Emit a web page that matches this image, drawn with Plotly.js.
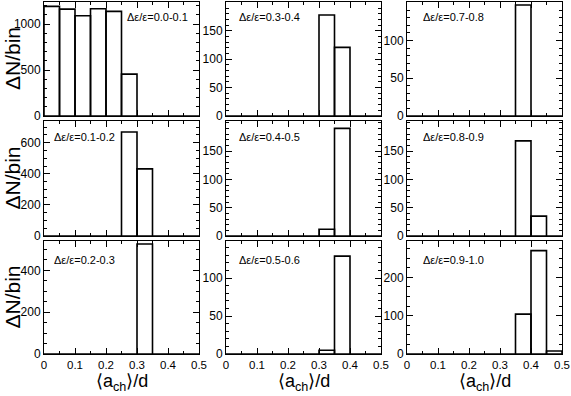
<!DOCTYPE html>
<html>
<head>
<meta charset="utf-8">
<script src="https://cdn.plot.ly/plotly-3.0.1.min.js"></script>
<style>
body { margin: 0; background: #fff; }
#chart { width: 571px; height: 396px; }
</style>
</head>
<body>
<div id="chart"></div>
<script>
// bin centres, 0.05 wide bins from 0 to 0.5
const binCenters = [0.025, 0.075, 0.125, 0.175, 0.225, 0.275, 0.325, 0.375, 0.425, 0.475];
const xTickVals = [0, 0.1, 0.2, 0.3, 0.4, 0.5];
const xTickText = ['0', '0.1', '0.2', '0.3', '0.4', '0.5'];

const panelLabels = ['Δε/ε=0.0-0.1', 'Δε/ε=0.1-0.2', 'Δε/ε=0.2-0.3',
                     'Δε/ε=0.3-0.4', 'Δε/ε=0.4-0.5', 'Δε/ε=0.5-0.6',
                     'Δε/ε=0.7-0.8', 'Δε/ε=0.8-0.9', 'Δε/ε=0.9-1.0'];

const counts00 = [1192, 1163, 1090, 1166, 1138, 456, 0, 0, 0, 0];
const counts01 = [0, 0, 0, 0, 0, 669, 432, 0, 0, 0];
const counts02 = [0, 0, 0, 0, 0, 0, 526, 0, 0, 0];
const counts03 = [0, 0, 0, 0, 0, 0, 178, 121, 0, 0];
const counts04 = [0, 0, 0, 0, 0, 0, 12, 190, 0, 0];
const counts05 = [0, 0, 0, 0, 0, 0, 5, 129, 0, 0];
const counts07 = [0, 0, 0, 0, 0, 0, 0, 147, 0, 0];
const counts08 = [0, 0, 0, 0, 0, 0, 0, 168, 35, 0];
const counts09 = [0, 0, 0, 0, 0, 0, 0, 104, 270, 8];

// y axis scale per panel
const yMax = [1240, 740, 540, 201, 203, 149, 151, 203, 295];
const yTicks = [[0, 500, 1000], [0, 200, 400, 600], [0, 200, 400],
                [0, 50, 100, 150], [0, 50, 100, 150], [0, 50, 100],
                [0, 50, 100], [0, 50, 100, 150], [0, 100, 200]];
const yMinor = [100, 50, 50, 10, 10, 10, 10, 10, 25];

const allCounts = [counts00, counts01, counts02, counts03, counts04, counts05, counts07, counts08, counts09];

const W = 571, H = 396;
const colPx = [[44, 199], [226, 381], [407, 562]];
const rowPx = [[2, 116], [121, 236], [241, 354]];
const labelOffset = [[0.52, 15], [0.05, 16], [0.05, 19]];

const font = 'Liberation Sans, Arial, Helvetica, sans-serif';
const data = [];
const layout = {
    width: W,
    height: H,
    margin: {l: 0, r: 0, t: 0, b: 0},
    paper_bgcolor: '#fff',
    plot_bgcolor: '#fff',
    showlegend: false,
    font: {family: font, color: '#000', size: 11},
    annotations: []
};

allCounts.forEach((counts, i) => {
    const col = Math.floor(i / 3);
    const row = i % 3;
    const n = i + 1;
    const sfx = n === 1 ? '' : n;

    data.push({
        type: 'bar',
        x: binCenters,
        y: counts,
        width: 0.05,
        xaxis: 'x' + sfx,
        yaxis: 'y' + sfx,
        marker: {color: 'rgba(255,255,255,0)', line: {color: '#000', width: 1.6}},
        hoverinfo: 'skip'
    });

    layout['xaxis' + sfx] = {
        domain: [colPx[col][0] / W, colPx[col][1] / W],
        anchor: 'y' + sfx,
        range: [0, 0.5],
        tickvals: xTickVals,
        ticktext: xTickText,
        showticklabels: row === 2,
        ticks: 'inside',
        ticklen: 6,
        tickcolor: '#000',
        tickfont: {size: 11.5},
        minor: {dtick: 0.05, tick0: 0, ticks: 'inside', ticklen: 3, tickcolor: '#000'},
        showline: true,
        linecolor: '#000',
        linewidth: 1,
        mirror: 'ticks',
        showgrid: false,
        zeroline: false,
        fixedrange: true
    };
    layout['yaxis' + sfx] = {
        domain: [(H - rowPx[row][1]) / H, (H - rowPx[row][0]) / H],
        anchor: 'x' + sfx,
        range: [0, yMax[i]],
        tickvals: yTicks[i],
        ticks: 'inside',
        ticklen: 6,
        tickcolor: '#000',
        tickfont: {size: 12},
        minor: {dtick: yMinor[i], tick0: 0, ticks: 'inside', ticklen: 3, tickcolor: '#000'},
        showline: true,
        linecolor: '#000',
        linewidth: 1,
        mirror: 'ticks',
        showgrid: false,
        zeroline: false,
        fixedrange: true
    };

    layout.annotations.push({
        xref: 'x' + sfx + ' domain',
        yref: 'y' + sfx + ' domain',
        x: col === 0 ? labelOffset[row][0] : (col === 1 ? 0.07 : 0.09),
        y: 1 - labelOffset[row][1] / (rowPx[row][1] - rowPx[row][0]),
        xanchor: 'left',
        yanchor: 'middle',
        text: panelLabels[i],
        showarrow: false,
        font: {size: 11}
    });
});

// row titles on the left
rowPx.forEach(r => {
    layout.annotations.push({
        xref: 'paper', yref: 'paper',
        x: 12 / W, y: 1 - (r[0] + r[1]) / 2 / H,
        xanchor: 'center', yanchor: 'middle',
        text: 'ΔN/bin', textangle: -90, showarrow: false,
        font: {size: 21}
    });
});

// column titles at the bottom
colPx.forEach(c => {
    layout.annotations.push({
        xref: 'paper', yref: 'paper',
        x: (c[0] + c[1]) / 2 / W, y: 0,
        xanchor: 'center', yanchor: 'bottom',
        text: '⟨a<sub>ch</sub>⟩/d', showarrow: false,
        font: {size: 18}
    });
});

Plotly.newPlot('chart', data, layout, {displayModeBar: false, staticPlot: true});
</script>
</body>
</html>
